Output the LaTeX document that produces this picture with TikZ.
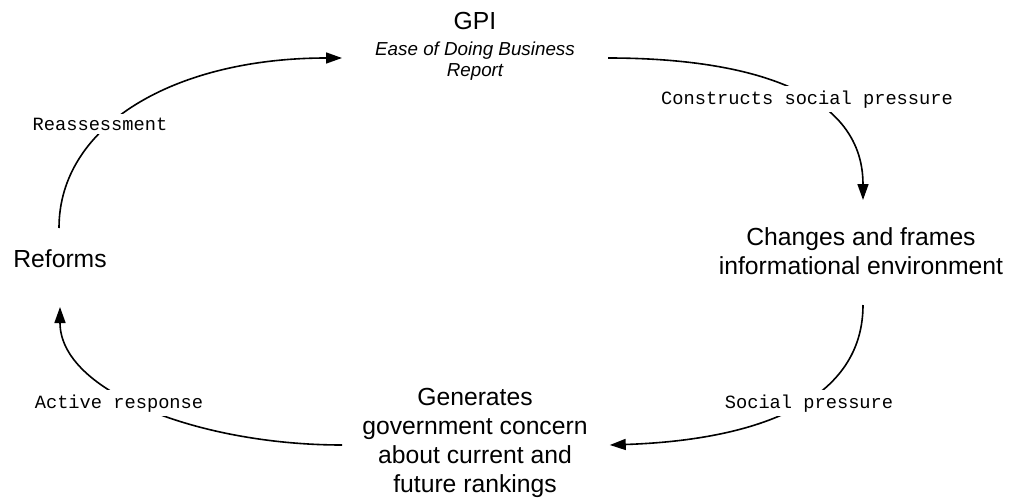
\documentclass[tikz,border=0pt]{standalone}
\usepackage{fontspec}
\setmainfont{Liberation Sans}
\setmonofont{Liberation Mono}
\usetikzlibrary{arrows.meta,calc}
\tikzset{
  main/.style={font=\fontsize{24.7}{29.3}\selectfont, inner sep=0pt, anchor=base},
  sub/.style={font=\fontsize{18.8}{21}\selectfont\itshape, inner sep=0pt, anchor=base},
  lbl/.style={font=\fontsize{18.7}{22}\selectfont\ttfamily, fill=white, inner sep=4pt, anchor=base},
  arr/.style={line width=1.6pt, -{Triangle[length=16pt,width=11pt]}},
}
\begin{document}
\begin{tikzpicture}[x=1pt,y=-1pt]
\useasboundingbox (0,0) rectangle (1013,501);
% nodes
\node[main] (gpi) at (475,29) {GPI};
\node[sub] (edb) at (475,55) {\begin{tabular}[t]{@{}c@{}}Ease of Doing Business\\Report\end{tabular}};
\node[main] (chg) at (861,245) {\begin{tabular}[t]{@{}c@{}}Changes and frames\\informational environment\end{tabular}};
\node[main] (gen) at (475,405) {\begin{tabular}[t]{@{}c@{}}Generates\\government concern\\about current and\\future rankings\end{tabular}};
\node[main] (ref) at (60,267) {Reforms};
% connectors
\draw[arr] ($(ref.base)+(-1,-39)$) .. controls (59,125) and (175,58) .. ($(edb.base west)+(-33,3)$);
\draw[arr] ($(edb.base east)+(33,3)$) .. controls (740,58) and (863,88) .. ($(chg.base)+(2,-45)$);
\draw[arr] ($(chg.base)+(2,60)$) .. controls (863,400) and (760,440) .. ($(gen.base east)+(22,40)$);
\draw[arr] ($(gen.base west)+(-20,40)$) .. controls (200,445) and (60,392) .. ($(ref.base)+(0,40)$);
% labels
\node[lbl] (l1) at (100,130) {Reassessment};
\node[lbl] (l2) at (807,104) {Constructs social pressure};
\node[lbl] (l3) at (809,408) {Social pressure};
\node[lbl] (l4) at (119,408) {Active response};
\end{tikzpicture}
\end{document}
